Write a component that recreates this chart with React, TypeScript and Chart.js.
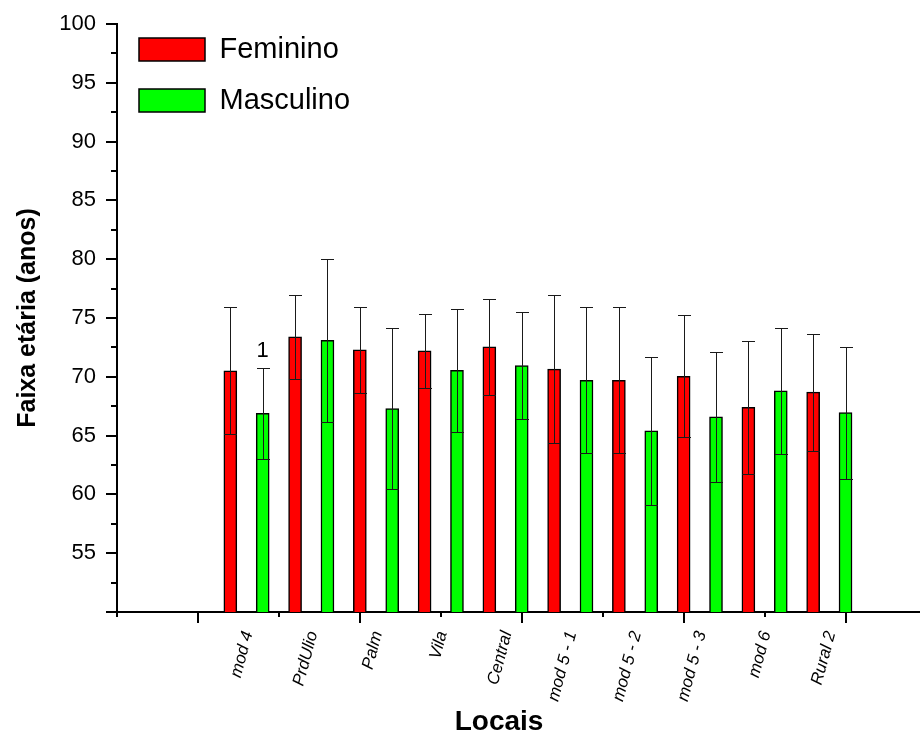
import React, { useEffect, useRef } from 'react';
import { Chart, registerables } from 'chart.js';

Chart.register(...registerables);

const FONT = "'Liberation Sans', Arial, Helvetica, sans-serif";

// Categories (locais)
const locais = ['mod 4', 'PrdUlio', 'Palm', 'Vila', 'Central', 'mod 5 - 1', 'mod 5 - 2', 'mod 5 - 3', 'mod 6', 'Rural 2'];

// Mean age and standard deviation per location
const femininoMedia = [70.5, 73.4, 72.3, 72.2, 72.55, 70.65, 69.7, 70.05, 67.4, 68.7];
const femininoDP = [5.4, 3.55, 3.65, 3.15, 4.1, 6.3, 6.2, 5.2, 5.65, 4.97];
const masculinoMedia = [66.9, 73.1, 67.3, 70.55, 70.95, 69.7, 65.4, 66.6, 68.8, 66.95];
const masculinoDP = [3.85, 6.95, 6.85, 5.25, 4.55, 6.2, 6.3, 5.55, 5.35, 5.6];

// Axis ticks
const yMajorTicks = [50, 55, 60, 65, 70, 75, 80, 85, 90, 95, 100];
const yMinorTicks = [52.5, 57.5, 62.5, 67.5, 72.5, 77.5, 82.5, 87.5, 92.5, 97.5];
const xMajorTicks = [-1, 4, 9, 14, 19];
const xMinorTicks = [-3.5, 1.5, 6.5, 11.5, 16.5];

// Text annotations above bars
const anotacoes = [{ serie: 1, indice: 0, texto: '1' }];

const medias = [femininoMedia, masculinoMedia];
const desvios = [femininoDP, masculinoDP];

const errorBarsPlugin = {
  id: 'errorBars',
  afterDatasetsDraw(chart: any) {
    const ctx = chart.ctx;
    const y = chart.scales.y;
    ctx.save();
    ctx.strokeStyle = '#1a1a1a';
    ctx.lineWidth = 1;
    chart.data.datasets.forEach((_ds: any, di: number) => {
      const meta = chart.getDatasetMeta(di);
      meta.data.forEach((bar: any, i: number) => {
        const m = medias[di][i];
        const s = desvios[di][i];
        const x = Math.round(bar.x) + 0.5;
        const yTop = Math.round(y.getPixelForValue(m + s)) + 0.5;
        const yBot = Math.round(y.getPixelForValue(m - s)) + 0.5;
        const hw = bar.width / 2;
        ctx.beginPath();
        ctx.moveTo(x, yTop);
        ctx.lineTo(x, yBot);
        ctx.moveTo(x - hw, yTop);
        ctx.lineTo(x + hw, yTop);
        ctx.moveTo(x - hw, yBot);
        ctx.lineTo(x + hw, yBot);
        ctx.stroke();
      });
    });
    ctx.fillStyle = '#000';
    ctx.font = `22px ${FONT}`;
    ctx.textAlign = 'center';
    ctx.textBaseline = 'middle';
    anotacoes.forEach((a) => {
      const bar = chart.getDatasetMeta(a.serie).data[a.indice];
      const top = y.getPixelForValue(medias[a.serie][a.indice] + desvios[a.serie][a.indice]);
      ctx.fillText(a.texto, bar.x, top - 17);
    });
    ctx.restore();
  },
};

const tickMarksPlugin = {
  id: 'tickMarks',
  afterDraw(chart: any) {
    const { ctx, chartArea } = chart;
    const x = chart.scales.x;
    const y = chart.scales.y;
    ctx.save();
    ctx.strokeStyle = '#000';
    ctx.lineWidth = 2;
    ctx.beginPath();
    yMajorTicks.forEach((v) => {
      const p = Math.round(y.getPixelForValue(v));
      ctx.moveTo(chartArea.left - 11, p);
      ctx.lineTo(chartArea.left, p);
    });
    yMinorTicks.forEach((v) => {
      const p = Math.round(y.getPixelForValue(v));
      ctx.moveTo(chartArea.left - 6, p);
      ctx.lineTo(chartArea.left, p);
    });
    xMajorTicks.forEach((v) => {
      const p = Math.round(x.getPixelForValue(v));
      ctx.moveTo(p, chartArea.bottom);
      ctx.lineTo(p, chartArea.bottom + 11);
    });
    xMinorTicks.forEach((v) => {
      const p = Math.round(x.getPixelForValue(v));
      ctx.moveTo(p, chartArea.bottom);
      ctx.lineTo(p, chartArea.bottom + 5);
    });
    ctx.stroke();
    ctx.restore();
  },
};

export default function App() {
  const canvasRef = useRef<HTMLCanvasElement | null>(null);

  useEffect(() => {
    if (!canvasRef.current) return;
    Chart.defaults.font.family = FONT;
    Chart.defaults.color = '#000';
    const chart = new Chart(canvasRef.current, {
      type: 'bar',
      data: {
        datasets: [
          {
            label: 'Feminino',
            data: femininoMedia.map((v, k) => ({ x: 2 * k, y: v })),
            backgroundColor: '#ff0000',
            borderColor: '#000',
            borderWidth: 1.5,
            barThickness: 13,
            grouped: false,
          } as any,
          {
            label: 'Masculino',
            data: masculinoMedia.map((v, k) => ({ x: 2 * k + 1, y: v })),
            backgroundColor: '#00ff00',
            borderColor: '#000',
            borderWidth: 1.5,
            barThickness: 13,
            grouped: false,
          } as any,
        ],
      },
      options: {
        responsive: false,
        animation: false,
        layout: { padding: { top: 24, left: 0, right: 0, bottom: 0 } },
        plugins: {
          tooltip: { enabled: false },
          legend: {
            position: 'chartArea' as any,
            align: 'start',
            title: {
              display: true,
              text: ' ',
              padding: { top: 6, bottom: 6 },
              font: { size: 1, lineHeight: 1 },
            },
            labels: {
              boxWidth: 66,
              boxHeight: 23,
              padding: 22,
              color: '#000',
              font: { size: 29, family: FONT },
            },
          },
        },
        scales: {
          x: {
            type: 'linear',
            min: -3.5,
            max: 21.3,
            offset: false,
            grid: { display: false, drawTicks: false },
            border: { display: true, color: '#000', width: 2 },
            afterBuildTicks: (scale: any) => {
              scale.ticks = locais.map((_l, k) => ({ value: 2 * k + 0.55 }));
            },
            afterFit: (scale: any) => {
              scale.height = 123;
              scale.paddingLeft = 0;
              scale.paddingRight = 0;
            },
            ticks: {
              autoSkip: false,
              minRotation: 75,
              maxRotation: 75,
              padding: 17,
              color: '#000',
              font: { size: 17, style: 'italic', family: FONT },
              callback: (value: any) => {
                const k = Math.round((Number(value) - 0.55) / 2);
                return locais[k] ?? '';
              },
            },
            title: {
              display: true,
              text: 'Locais     ',
              color: '#000',
              padding: 0,
              font: { size: 28, weight: 'bold', family: FONT, lineHeight: 0.9 },
            },
          } as any,
          y: {
            type: 'linear',
            min: 50,
            max: 100,
            grid: { display: false, drawTicks: false },
            border: { display: true, color: '#000', width: 2 },
            afterFit: (scale: any) => {
              scale.width = 117;
              scale.paddingTop = 0;
              scale.paddingBottom = 0;
            },
            ticks: {
              stepSize: 5,
              padding: 21,
              color: '#000',
              font: { size: 22, family: FONT },
              callback: (value: any) => (Number(value) === 50 ? '' : String(value)),
            },
            title: {
              display: true,
              text: 'Faixa etária (anos)',
              color: '#000',
              padding: { top: 13.5, bottom: 0 },
              font: { size: 25, weight: 'bold', family: FONT },
            },
          } as any,
        },
      },
      plugins: [errorBarsPlugin, tickMarksPlugin],
    });
    return () => chart.destroy();
  }, []);

  return (
    <div style={{ position: 'absolute', left: 0, top: 0, width: 920, height: 735, background: '#fff' }}>
      <canvas ref={canvasRef} width={920} height={735} style={{ display: 'block' }} />
    </div>
  );
}
